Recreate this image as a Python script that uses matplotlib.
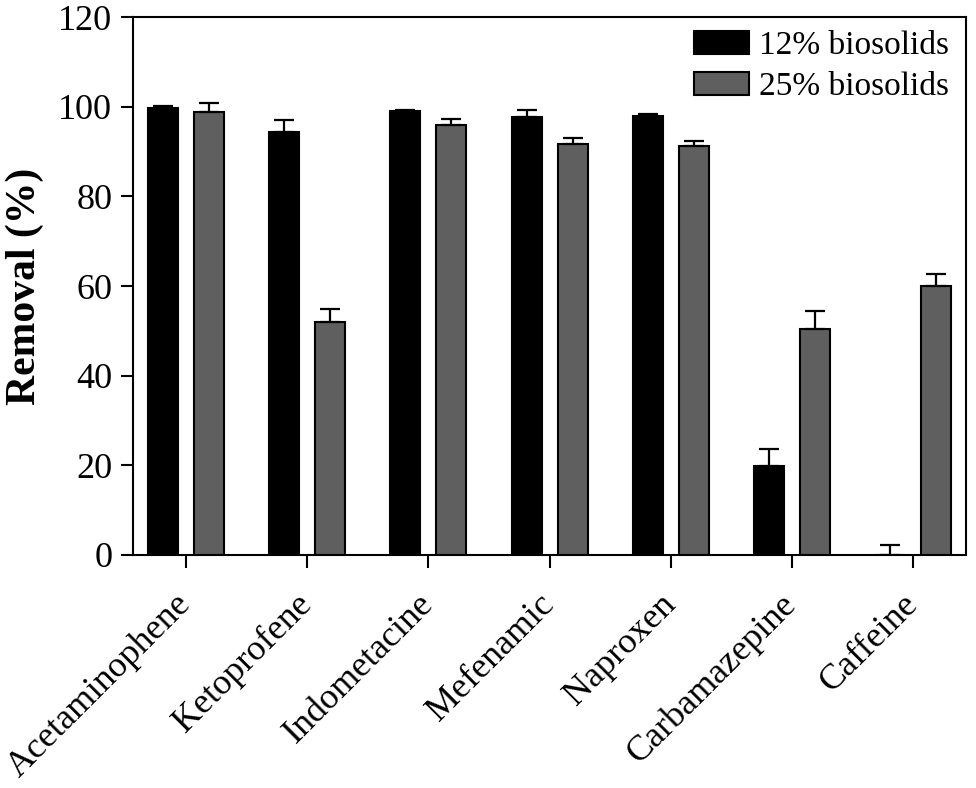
import matplotlib
matplotlib.use("Agg")
import matplotlib.pyplot as plt
import numpy as np

plt.rcParams['font.family'] = ['Liberation Serif', 'DejaVu Serif']

compounds = ["Acetaminophene", "Ketoprofene", "Indometacine", "Mefenamic",
             "Naproxen", "Carbamazepine", "Caffeine"]
series_names = ["12% biosolids", "25% biosolids"]
removal_12 = [99.6, 94.4, 99.1, 97.6, 97.9, 19.8, 0.0]
err_12 = [0.5, 2.6, 0.2, 1.7, 0.5, 3.8, 2.2]
removal_25 = [98.9, 52.0, 95.9, 91.7, 91.3, 50.4, 59.9]
err_25 = [2.0, 2.9, 1.3, 1.3, 1.0, 4.0, 2.7]
yticks = [0, 20, 40, 60, 80, 100, 120]

fig = plt.figure(figsize=(9.76, 7.88), dpi=100)
ax = fig.add_axes([0.1363, 0.2957, 0.8535, 0.6827])

x = np.arange(len(compounds))
w = 0.248
off = 0.19
ekw = dict(elinewidth=1.6, capthick=1.6, ecolor='black')
ax.bar(x - off, removal_12, w, color='black', edgecolor='black', linewidth=1.5,
       yerr=[np.zeros(len(err_12)), err_12], capsize=7, error_kw=ekw,
       label=series_names[0], zorder=2)
ax.bar(x + off, removal_25, w, color='#5f5f5f', edgecolor='black', linewidth=1.5,
       yerr=[np.zeros(len(err_25)), err_25], capsize=7, error_kw=ekw,
       label=series_names[1], zorder=2)

ax.set_xlim(-0.44, len(compounds) - 1 + 0.44)
ax.set_ylim(0, 120)
ax.set_yticks(yticks)
ax.set_yticklabels([str(v) for v in yticks], fontsize=26)
ax.set_xticks(x)
ax.set_xticklabels(compounds, fontsize=26, rotation=45, ha='right',
                   va='center', rotation_mode='anchor')
ax.tick_params(axis='both', direction='out', length=9, width=1.5, color='black')
ax.tick_params(axis='x', pad=23)
ax.tick_params(axis='y', pad=6)
for s in ax.spines.values():
    s.set_linewidth(1.5)
    s.set_color('black')

ax.set_ylabel("Removal (%)", fontsize=30, fontweight='bold', labelpad=10)

leg = ax.legend(loc='upper right', bbox_to_anchor=(0.995, 1.0), frameon=False,
                fontsize=24, handlelength=1.65, handleheight=0.7,
                handletextpad=0.3, labelspacing=0.32, borderaxespad=0.0)

fig.savefig("out.png", dpi=100)
